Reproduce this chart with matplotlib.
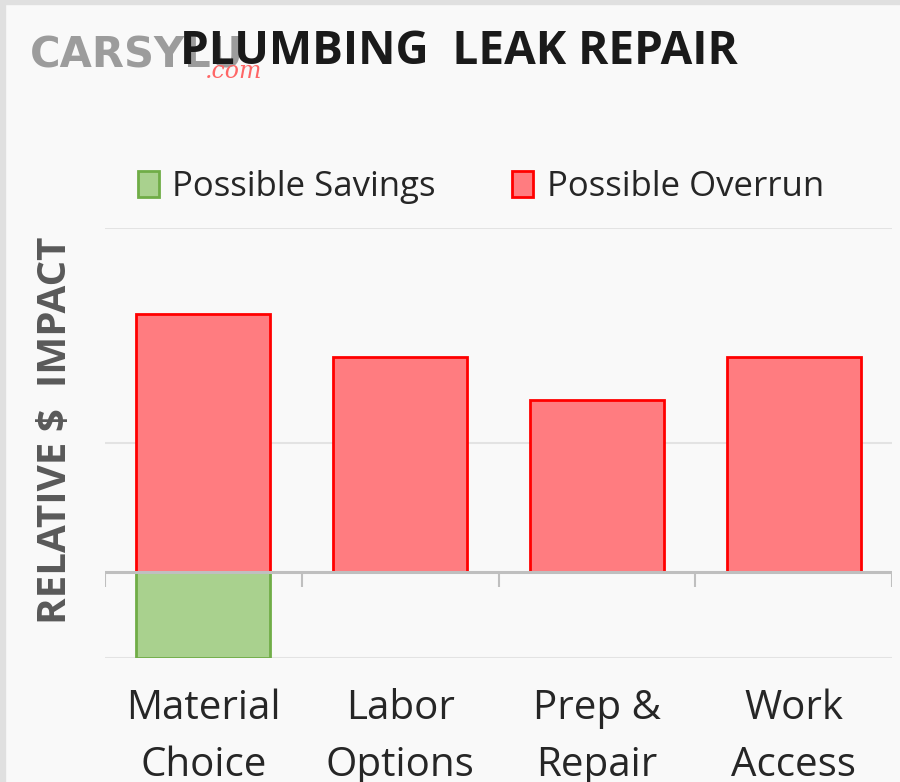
import matplotlib
matplotlib.use("Agg")
import matplotlib.pyplot as plt
from matplotlib.patches import Patch, Rectangle

# chart values
categories = ["Material\nChoice", "Labor\nOptions", "Prep &\nRepair", "Work\nAccess"]
overrun = [3.0, 2.5, 2.0, 2.5]
savings = [-1.0, 0.0, 0.0, 0.0]
grid_levels = [-1.0, 1.5, 4.0]

plt.rcParams["font.family"] = ["Open Sans", "DejaVu Sans"]

fig = plt.figure(figsize=(9, 7.82), dpi=100)
fig.patch.set_facecolor("#f9f9f9")

# thin gray frame at top and left like the screenshot
fig.patches.append(Rectangle((0, 0.995), 1, 0.005, transform=fig.transFigure,
                             color="#e0e0e0", zorder=0))
fig.patches.append(Rectangle((0, 0), 0.005, 1, transform=fig.transFigure,
                             color="#e0e0e0", zorder=0))

ax = fig.add_axes([105 / 900, 1 - 658 / 782, 787 / 900, 430 / 782])
ax.set_facecolor("#f9f9f9")

x = list(range(len(categories)))
ax.bar(x, overrun, width=0.68, color="#ff7c80", edgecolor="#ff0000",
       linewidth=2, zorder=3, label="Possible Overrun")
ax.bar(x, savings, width=0.68, color="#a9d18e", edgecolor="#70ad47",
       linewidth=2, zorder=3, label="Possible Savings")

for g in grid_levels:
    ax.axhline(g, color="#e3e3e3", linewidth=1.5, zorder=1)
ax.axhline(0, color="#bfbfbf", linewidth=2.2, zorder=4)
ax.vlines([i - 0.5 for i in range(len(categories) + 1)], -0.17, 0,
          color="#bfbfbf", linewidth=1.5, zorder=4)

ax.set_xlim(-0.5, len(categories) - 0.5)
ax.set_ylim(-1, 4)
for s in ax.spines.values():
    s.set_visible(False)
ax.set_yticks([])
ax.set_xticks(x)
ax.set_xticklabels(categories, fontsize=29, color="#262626", linespacing=1.55)
ax.tick_params(axis="x", length=0, pad=22)

handles = [Patch(facecolor="#a9d18e", edgecolor="#70ad47", linewidth=2),
           Patch(facecolor="#ff7c80", edgecolor="#ff0000", linewidth=2)]
fig.legend(handles, ["Possible Savings", "Possible Overrun"], ncol=2,
           loc="center", bbox_to_anchor=(481 / 900, 1 - 187 / 782),
           frameon=False, fontsize=25, handlelength=0.6, handleheight=0.8,
           handletextpad=0.4, columnspacing=2.2, labelcolor="#262626")

fig.text(56 / 900, 1 - 430 / 782, "RELATIVE $  IMPACT", rotation=90,
         ha="center", va="center", fontsize=29, fontweight="bold",
         color="#595959")

# watermark behind the title
fig.text(30 / 900, 1 - 55 / 782, "CARSYLU", fontsize=30, fontweight="bold",
         color="#8c8c8c", alpha=0.85, ha="left", va="center",
         family="DejaVu Sans", zorder=1)
fig.text(205 / 900, 1 - 71 / 782, ".com", fontsize=17, fontstyle="italic",
         color="#ff6666", ha="left", va="center", family="DejaVu Serif",
         zorder=1)

fig.text(459 / 900, 1 - 52 / 782, "PLUMBING  LEAK REPAIR", fontsize=33,
         fontweight="bold", color="#1a1a1a", ha="center", va="center",
         zorder=5)

fig.savefig("out.png", dpi=100, facecolor=fig.get_facecolor())
